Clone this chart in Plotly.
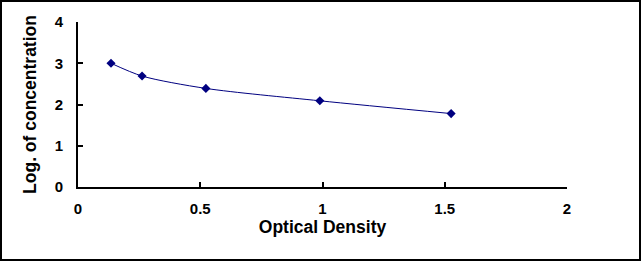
import plotly.graph_objects as go

optical_density = [0.135, 0.262, 0.523, 0.989, 1.526]
log_concentration = [3.0, 2.69, 2.39, 2.09, 1.78]
x_ticks = [0, 0.5, 1, 1.5, 2]
x_tick_labels = ["0", "0.5", "1", "1.5", "2"]
y_ticks = [0, 1, 2, 3, 4]
y_tick_labels = ["0", "1", "2", "3", "4"]

W, H = 642, 262
L, R, T, B = 78, 75, 22, 75
pw, ph = W - L - R, H - T - B

fig = go.Figure()
fig.add_trace(go.Scatter(
    x=optical_density, y=log_concentration,
    mode="lines+markers",
    line=dict(color="#000080", width=1, shape="spline", smoothing=0.8),
    marker=dict(symbol="diamond", size=7, color="#000080"),
    showlegend=False,
))

family = "Arial, 'Liberation Sans', sans-serif"
tick_font = dict(family=family, size=15, color="black")
title_font = dict(family=family, size=17.5, color="black")
fig.update_layout(
    width=W, height=H,
    margin=dict(l=L, r=R, t=T, b=B),
    paper_bgcolor="white", plot_bgcolor="white",
    font=tick_font,
    xaxis=dict(
        range=[0, 2], tickvals=x_ticks, ticktext=[f"<b>{t}</b>" for t in x_tick_labels],
        showline=True, linecolor="black", linewidth=2, showgrid=False, zeroline=False,
        ticks="inside", ticklen=5, tickwidth=2, tickcolor="black",
        ticklabelstandoff=7, tickfont=tick_font,
        title=dict(text="<b>Optical Density</b>", standoff=4, font=title_font),
    ),
    yaxis=dict(
        range=[0, 4], tickvals=y_ticks, ticktext=[f"<b>{t}</b>" for t in y_tick_labels],
        showline=True, linecolor="black", linewidth=2, showgrid=False, zeroline=False,
        ticks="inside", ticklen=5, tickwidth=2, tickcolor="black",
        ticklabelstandoff=10, tickfont=tick_font,
        title=dict(text="<b>Log. of concentration</b>", standoff=14, font=title_font),
    ),
)

# outer frame
fig.add_shape(type="rect", xref="paper", yref="paper",
              x0=(1 - L) / pw, x1=(W - 2 - L) / pw,
              y0=(T + ph - (H - 2)) / ph, y1=(T + ph - 1) / ph,
              line=dict(color="black", width=2), fillcolor="rgba(0,0,0,0)")

fig.write_html("out.html")
